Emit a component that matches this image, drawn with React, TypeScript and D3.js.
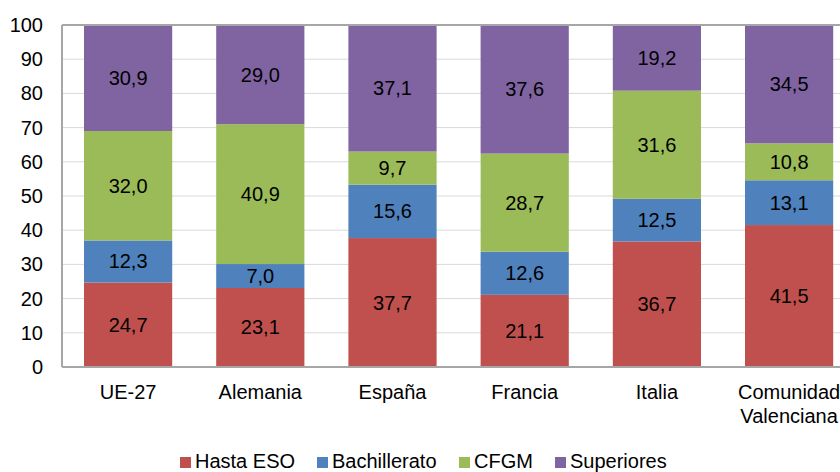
import React from "react";
import * as d3 from "d3";

const categories = ["UE-27", "Alemania", "España", "Francia", "Italia", "Comunidad\nValenciana"];
const seriesNames = ["Hasta ESO", "Bachillerato", "CFGM", "Superiores"];
const hastaESO = [24.7, 23.1, 37.7, 21.1, 36.7, 41.5];
const bachillerato = [12.3, 7.0, 15.6, 12.6, 12.5, 13.1];
const cfgm = [32.0, 40.9, 9.7, 28.7, 31.6, 10.8];
const superiores = [30.9, 29.0, 37.1, 37.6, 19.2, 34.5];
const colors = ["#C0504D", "#4F81BD", "#9BBB59", "#8064A2"];
const yTicks = [0, 10, 20, 30, 40, 50, 60, 70, 80, 90, 100];

const W = 840, H = 472;
const left = 62, top = 25, bottom = 367;
const step = 132.2;
const right = left + step * categories.length;
const font = "'Liberation Sans', Arial, sans-serif";

export default function App() {
  const series = [hastaESO, bachillerato, cfgm, superiores];
  const table = categories.map((c, i) => {
    const o: any = { cat: c };
    seriesNames.forEach((s, k) => (o[s] = series[k][i]));
    return o;
  });
  const stack = d3.stack().keys(seriesNames)(table as any);
  const x = d3.scaleBand().domain(categories).range([left, right]).paddingInner(44 / step).paddingOuter(22 / step);
  const y = d3.scaleLinear().domain([0, 100]).range([bottom, top]);
  const fmt = (v: number) => v.toFixed(1).replace(".", ",");
  const legendX = [180, 317, 459, 555];

  return (
    <svg width={W} height={H} style={{ position: "absolute", left: 0, top: 0, background: "#fff" }} fontFamily={font}>
      <defs>
        <clipPath id="plot">
          <rect x={left} y={top} width={right - left} height={bottom - top} />
        </clipPath>
      </defs>
      {yTicks.map((t) => (
        <g key={t}>
          <line x1={left} x2={right} y1={y(t)} y2={y(t)} stroke="#d9d9d9" strokeWidth={1} />
          <text x={43} y={y(t)} textAnchor="end" dominantBaseline="central" fontSize={20} fill="#000">
            {t}
          </text>
        </g>
      ))}
      <g clipPath="url(#plot)">
        {stack.map((layer, k) =>
          layer.map((d, i) => (
            <rect
              key={k + "-" + i}
              x={x(categories[i])!}
              width={x.bandwidth()}
              y={y(Math.min(d[1], 100))}
              height={y(d[0]) - y(Math.min(d[1], 100))}
              fill={colors[k]}
            />
          ))
        )}
      </g>
      {stack.map((layer, k) =>
        layer.map((d, i) => (
          <text
            key={"l" + k + "-" + i}
            x={x(categories[i])! + x.bandwidth() / 2}
            y={y((d[0] + Math.min(d[1], 100)) / 2)}
            textAnchor="middle"
            dominantBaseline="central"
            fontSize={20}
            fill="#000"
          >
            {fmt(series[k][i])}
          </text>
        ))
      )}
      <line x1={left} x2={right} y1={top} y2={top} stroke="#a6a6a6" strokeWidth={2} />
      <line x1={left} x2={left} y1={top} y2={bottom} stroke="#a6a6a6" strokeWidth={2} />
      <line x1={left} x2={right} y1={bottom} y2={bottom} stroke="#a6a6a6" strokeWidth={2} />
      {categories.map((c) => (
        <text key={c} x={x(c)! + x.bandwidth() / 2} y={399} textAnchor="middle" fontSize={20} fill="#000">
          {c.split("\n").map((line, j) => (
            <tspan key={j} x={x(c)! + x.bandwidth() / 2} dy={j === 0 ? 0 : 24}>
              {line}
            </tspan>
          ))}
        </text>
      ))}
      {seriesNames.map((s, k) => (
        <g key={s}>
          <rect x={legendX[k]} y={457} width={11} height={11} fill={colors[k]} />
          <text x={legendX[k] + 15} y={468} fontSize={20} fill="#000">
            {s}
          </text>
        </g>
      ))}
    </svg>
  );
}
